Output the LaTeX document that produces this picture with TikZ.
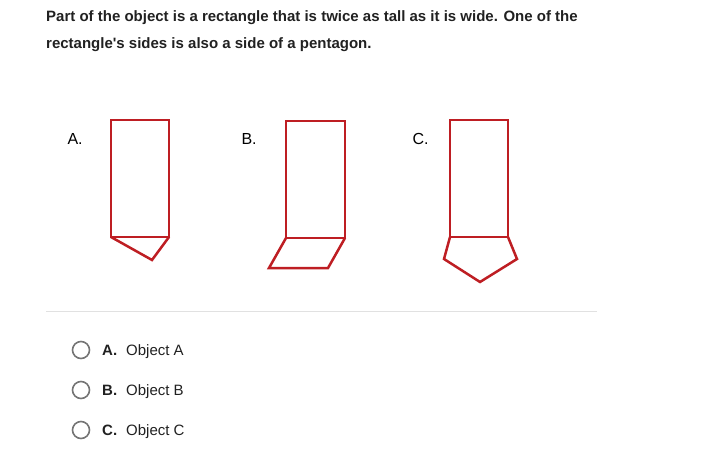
\documentclass[tikz,border=0pt]{standalone}
\usepackage{fontspec}
\setmainfont{Liberation Sans}
\definecolor{objred}{RGB}{190,30,35}
\definecolor{ringgray}{RGB}{117,117,117}
\definecolor{rulegray}{RGB}{225,225,225}
\definecolor{textgray}{RGB}{33,33,33}
\tikzset{
  objline/.style={draw=objred,line width=2.5pt,line join=miter},
  letter/.style={anchor=base west,font=\fontsize{16}{16}\selectfont},
  ring/.style={draw=ringgray,circle,line width=1.6pt,minimum size=17pt,inner sep=0pt},
  choice/.style={anchor=base west,inner sep=0pt,text=textgray,font=\fontsize{15}{15}\selectfont}
}
\begin{document}
\begin{tikzpicture}[x=1pt,y=-1pt]
		\useasboundingbox (0,0) rectangle (703,462);
		% question
		\node[anchor=base west,inner sep=0pt,text=textgray,font=\bfseries\fontsize{15}{15}\selectfont] at (46,22) (q1) {Part of the object is a rectangle that is twice as tall as it is wide. One of the};
		\node[anchor=base west,inner sep=0pt,text=textgray,font=\bfseries\fontsize{15}{15}\selectfont] at (46,49) (q2) {rectangle\textquotesingle s sides is also a side of a pentagon.};
	
		% object A
		\node[letter] at (64,145) (la) {A.};
		\draw[objline] (111,120) rectangle (169,237);
		\draw[objline] (111,237) -- (152,260) -- (169,237);
		
		% object B
		\node[letter] at (238,145) (lb) {B.};
		\draw[objline] (286,121) rectangle (345,238);
		\draw[objline] (286,238) -- (269,268) -- (328,268) -- (345,238);
	  
		% object C
		\node[letter] at (409,145) (lc) {C.};
		\draw[objline] (450,120) rectangle (508,237);
		\draw[objline] (450,237) -- (444,259) -- (480,282) -- (517,259) -- (508,237);
		
		\draw[rulegray,line width=1pt] (46,311) -- (597,311);
		
		% answers
		\node[ring] at (81,350) (ra) {};
		\node[ring] at (81,390) (rb) {};
		\node[ring] at (81,430) (rc) {};
		\node[choice] at (102,355) (ca) {\textbf{A.}\hspace{9pt}Object A};
		\node[choice] at (102,395) (cb) {\textbf{B.}\hspace{9pt}Object B};
		\node[choice] at (102,435) (cc) {\textbf{C.}\hspace{9pt}Object C};
		\end{tikzpicture}
\end{document}
